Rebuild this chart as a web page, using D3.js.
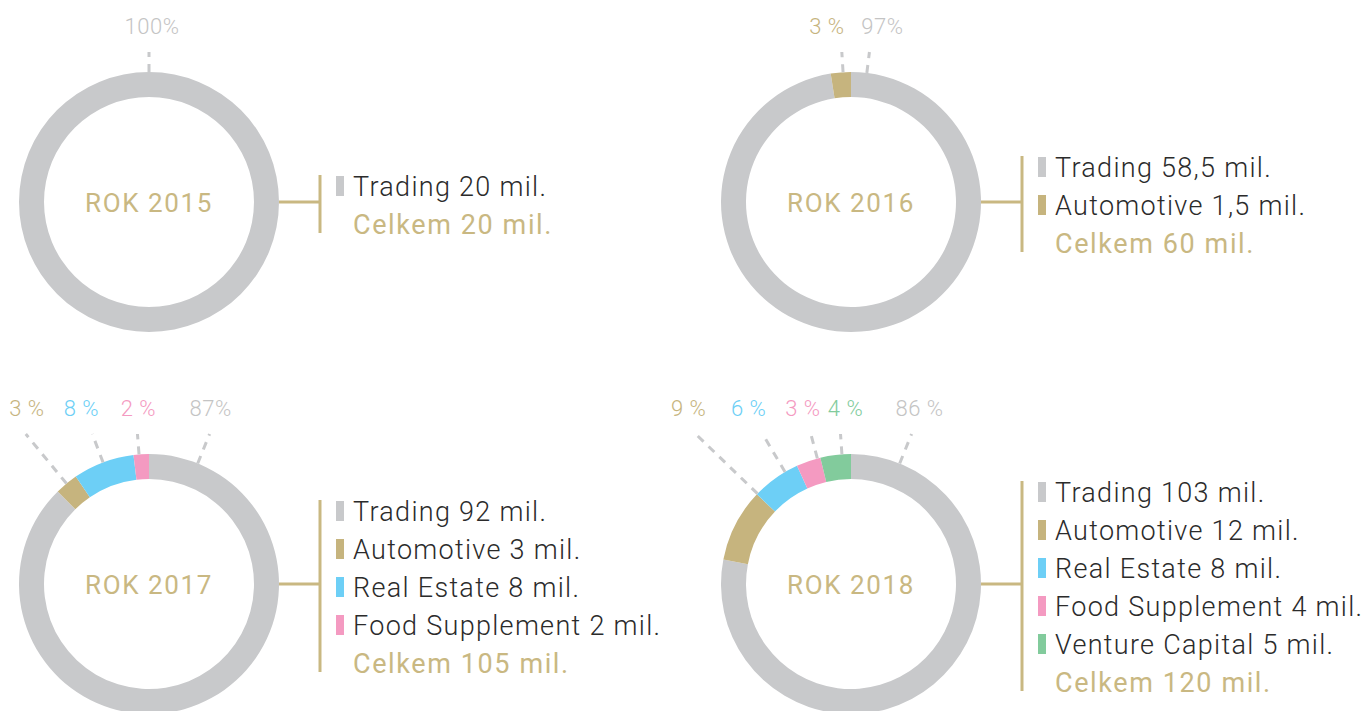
<!DOCTYPE html>
<html>
<head>
<meta charset="utf-8">
<script src="https://cdn.jsdelivr.net/npm/d3@7"></script>
<style>
  body { margin: 0; background: #fff; }
  svg { display: block; }
  text { font-family: Roboto, "Noto Sans", sans-serif; }
</style>
</head>
<body>
<div id="chart"></div>
<script>
// data
const years = ["2015", "2016", "2017", "2018"];
const categories = ["Trading", "Automotive", "Real Estate", "Food Supplement", "Venture Capital"];
const values2015 = [20];
const values2016 = [58.5, 1.5];
const values2017 = [92, 3, 8, 2];
const values2018 = [103, 12, 8, 4, 5];
const totals = [20, 60, 105, 120];
const percentLabels2015 = ["100%"];
const percentLabels2016 = ["97%", "3 %"];
const percentLabels2017 = ["87%", "3 %", "8 %", "2 %"];
const percentLabels2018 = ["86 %", "9 %", "6 %", "3 %", "4 %"];

// where each leader line touches the ring (degrees, clockwise from 12 o'clock)
const leaderAngles = [[0], [7, 356.5], [22, 320.6, 339.3, 355.6], [22, 314, 329.5, 345, 356]];
const labelShift = [[3], [13, -15], [1, 1, -11, 1], [8, -7, -14, -8, 5]];

const colors = ["#c8c9cb", "#c6b47e", "#6dcff6", "#f49ac1", "#82cb9c"];
const labelColors = ["#c4c4c4", "#c6b47e", "#6dcff6", "#f49ac1", "#82cb9c"];
const gold = "#c9b882";

const width = 1364, height = 711;
const centers = [[149, 202], [851, 202], [149, 584], [851, 584]];
const outerR = 130, innerR = 105;

const fmt = d3.formatLocale({decimal: ",", thousands: " ", grouping: [3], currency: ["", ""]}).format("~f");

const svg = d3.select("#chart").append("svg")
    .attr("width", width)
    .attr("height", height);

const allValues = [values2015, values2016, values2017, values2018];
const allPercents = [percentLabels2015, percentLabels2016, percentLabels2017, percentLabels2018];

const pie = d3.pie().sort(null).value(d => d);
const arc = d3.arc().innerRadius(innerR).outerRadius(outerR);

years.forEach((year, c) => {
    const [cx, cy] = centers[c];
    const vals = allValues[c];
    const g = svg.append("g").attr("transform", `translate(${cx},${cy})`);

    // ring
    g.selectAll("path.slice")
        .data(pie(vals))
        .enter().append("path")
        .attr("class", "slice")
        .attr("d", arc)
        .attr("fill", (d, i) => colors[i]);

    // leader lines + percent labels
    const topY = -150;
    vals.forEach((v, i) => {
        const a = leaderAngles[c][i] * Math.PI / 180;
        const sx = Math.sin(a), sy = -Math.cos(a);
        const t = -topY / Math.cos(a);
        const x1 = outerR * sx, y1 = outerR * sy;
        const x2 = t * sx, y2 = topY;
        g.append("line")
            .attr("x1", x1).attr("y1", y1)
            .attr("x2", x2).attr("y2", y2)
            .attr("stroke", "#c8c9cb")
            .attr("stroke-width", 3)
            .attr("stroke-dasharray", "8,7");
        g.append("text")
            .attr("x", x2 + labelShift[c][i])
            .attr("y", -168)
            .attr("text-anchor", "middle")
            .attr("fill", labelColors[i])
            .style("font-size", "22px")
            .style("font-weight", 300)
            .style("letter-spacing", "0.5px")
            .text(allPercents[c][i]);
    });

    // centre title
    g.append("text")
        .attr("x", 0)
        .attr("y", 10)
        .attr("text-anchor", "middle")
        .attr("fill", gold)
        .style("font-size", "26px")
        .style("letter-spacing", "1.6px")
        .text(`ROK ${year}`);

    // legend with bracket
    const rows = vals.length + 1;
    const rowH = 38;
    const base0 = 13 - (rows - 1) / 2 * rowH;
    const bx = outerR + 41;

    g.append("line")
        .attr("x1", outerR).attr("y1", 0)
        .attr("x2", bx).attr("y2", 0)
        .attr("stroke", gold).attr("stroke-width", 3);
    g.append("line")
        .attr("x1", bx).attr("y1", base0 - 21)
        .attr("x2", bx).attr("y2", base0 + (rows - 1) * rowH - 1)
        .attr("stroke", gold).attr("stroke-width", 3);

    vals.forEach((v, i) => {
        const y = base0 + i * rowH;
        g.append("rect")
            .attr("x", bx + 16)
            .attr("y", y - 20)
            .attr("width", 8)
            .attr("height", 20)
            .attr("fill", colors[i]);
        g.append("text")
            .attr("x", bx + 33)
            .attr("y", y)
            .attr("fill", "#2b2b2b")
            .style("font-size", "27px")
            .style("font-weight", 300)
            .style("letter-spacing", "1.3px")
            .text(`${categories[i]} ${fmt(v)} mil.`);
    });
    g.append("text")
        .attr("x", bx + 33)
        .attr("y", base0 + vals.length * rowH)
        .attr("fill", gold)
        .style("font-size", "27px")
        .style("letter-spacing", "1.6px")
        .text(`Celkem ${fmt(totals[c])} mil.`);
});
</script>
</body>
</html>
